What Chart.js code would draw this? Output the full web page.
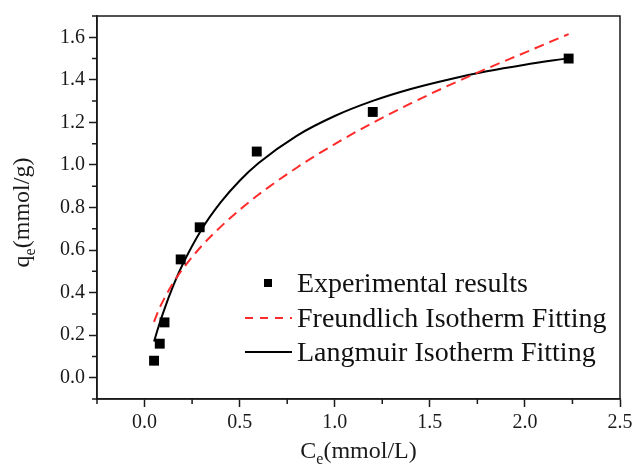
<!DOCTYPE html>
<html>
<head>
<meta charset="utf-8">
<style>
  html, body { margin: 0; padding: 0; background: #fff; }
  #chart { display: block; }
</style>
<script src="https://cdn.jsdelivr.net/npm/chart.js@4.4.1/dist/chart.umd.min.js"></script>
</head>
<body>
<canvas id="chart" width="634" height="466"></canvas>
<script>
// ===== Data =====
const expC = [0.05, 0.08, 0.105, 0.19, 0.29, 0.59, 1.2, 2.23];
const expQ = [0.08, 0.16, 0.26, 0.556, 0.707, 1.063, 1.249, 1.50];

const fitC = [0.05, 0.075, 0.1, 0.15, 0.2, 0.3, 0.4, 0.5, 0.6, 0.8, 1.0, 1.2, 1.4, 1.6, 1.8, 2.0, 2.23];
const freundlichQ = [0.263, 0.320, 0.366, 0.445, 0.510, 0.619, 0.709, 0.789, 0.861, 0.987, 1.098, 1.198, 1.289, 1.374, 1.453, 1.528, 1.615];
const langmuirQ = [0.170, 0.244, 0.311, 0.430, 0.532, 0.697, 0.824, 0.926, 1.009, 1.137, 1.230, 1.301, 1.357, 1.402, 1.440, 1.471, 1.502];

const seriesNames = ["Experimental results", "Freundlich Isotherm Fitting", "Langmuir Isotherm Fitting"];
const xTitle = ["C", "e", "(mmol/L)"];
const yTitle = ["q", "e", "(mmol/g)"];

const xMajor = [0, 0.5, 1.0, 1.5, 2.0, 2.5];
const yMajor = [0, 0.2, 0.4, 0.6, 0.8, 1.0, 1.2, 1.4, 1.6];

// ===== Styles =====
const AXIS = "#1a1a1a";
const RED = "#ff2b2b";
const SERIF = "'Liberation Serif', 'Times New Roman', serif";

const toXY = (xs, ys) => xs.map((x, i) => ({ x: x, y: ys[i] }));
const isMajor = (v, list) => list.some(m => Math.abs(m - v) < 1e-6);

// frame, minor ticks, axis titles and legend
const decorPlugin = {
  id: "decor",
  afterDraw(chart) {
    const ctx = chart.ctx;
    const a = chart.chartArea;
    const xs = chart.scales.x, ys = chart.scales.y;
    ctx.save();

    // box frame
    ctx.strokeStyle = AXIS;
    ctx.lineWidth = 1.5;
    ctx.strokeRect(a.left, a.top, a.right - a.left, a.bottom - a.top);

    // minor ticks
    ctx.beginPath();
    xs.ticks.forEach(t => {
      if (isMajor(t.value, xMajor)) return;
      const px = xs.getPixelForValue(t.value);
      ctx.moveTo(px, a.bottom);
      ctx.lineTo(px, a.bottom + 5);
    });
    ys.ticks.forEach(t => {
      if (isMajor(t.value, yMajor)) return;
      const py = ys.getPixelForValue(t.value);
      ctx.moveTo(a.left, py);
      ctx.lineTo(a.left - 5, py);
    });
    ctx.stroke();

    // axis titles with subscript
    ctx.fillStyle = AXIS;
    ctx.textBaseline = "alphabetic";
    const big = "24px " + SERIF, small = "16px " + SERIF;
    function drawSub(parts, cx, baseY) {
      ctx.font = big; const w0 = ctx.measureText(parts[0]).width;
      ctx.font = small; const w1 = ctx.measureText(parts[1]).width;
      ctx.font = big; const w2 = ctx.measureText(parts[2]).width;
      let x = cx - (w0 + w1 + w2) / 2;
      ctx.textAlign = "left";
      ctx.font = big; ctx.fillText(parts[0], x, baseY); x += w0;
      ctx.font = small; ctx.fillText(parts[1], x, baseY + 6); x += w1;
      ctx.font = big; ctx.fillText(parts[2], x, baseY);
    }
    drawSub(xTitle, (a.left + a.right) / 2, 458);
    ctx.save();
    ctx.translate(29, (a.top + a.bottom) / 2 + 5);
    ctx.rotate(-Math.PI / 2);
    drawSub(yTitle, 0, 0);
    ctx.restore();

    // legend inside the plot
    const lx = a.left + 148, tx = a.left + 200;
    const rows = [a.bottom - 116, a.bottom - 81, a.bottom - 47];
    ctx.font = "28px " + SERIF;
    ctx.textAlign = "left";
    ctx.textBaseline = "middle";
    // marker
    ctx.fillStyle = "#000";
    ctx.fillRect(lx + 19, rows[0] - 4, 8, 8);
    // red dashed
    ctx.strokeStyle = RED;
    ctx.lineWidth = 2;
    ctx.setLineDash([8, 7]);
    ctx.beginPath(); ctx.moveTo(lx, rows[1]); ctx.lineTo(lx + 47, rows[1]); ctx.stroke();
    ctx.setLineDash([]);
    ctx.strokeStyle = "#000";
    ctx.beginPath(); ctx.moveTo(lx, rows[2]); ctx.lineTo(lx + 47, rows[2]); ctx.stroke();
    ctx.fillStyle = "#111";
    seriesNames.forEach((n, i) => ctx.fillText(n, tx, rows[i] + 2));

    ctx.restore();
  }
};

const tickFont = { family: SERIF, size: 20 };

new Chart(document.getElementById("chart"), {
  type: "scatter",
  data: {
    datasets: [
      {
        label: seriesNames[0],
        data: toXY(expC, expQ),
        pointStyle: "rect",
        pointRadius: 7,
        backgroundColor: "#000",
        borderColor: "#000",
        borderWidth: 0
      },
      {
        label: seriesNames[1],
        data: toXY(fitC, freundlichQ),
        showLine: true,
        pointRadius: 0,
        borderColor: RED,
        borderWidth: 2,
        borderDash: [10, 6],
        cubicInterpolationMode: "monotone"
      },
      {
        label: seriesNames[2],
        data: toXY(fitC, langmuirQ),
        showLine: true,
        pointRadius: 0,
        borderColor: "#000",
        borderWidth: 2,
        cubicInterpolationMode: "monotone"
      }
    ]
  },
  options: {
    responsive: false,
    animation: false,
    layout: { padding: { top: 14, right: 14, left: 0, bottom: 0 } },
    plugins: { legend: { display: false }, tooltip: { enabled: false } },
    scales: {
      x: {
        type: "linear",
        min: -0.25,
        max: 2.5,
        afterFit: s => { s.height = 67; s.paddingRight = 0; },
        border: { color: AXIS, width: 1.5 },
        grid: {
          drawOnChartArea: false,
          tickLength: 8,
          tickWidth: 1.5,
          tickColor: c => (c.tick && isMajor(c.tick.value, xMajor)) ? AXIS : "rgba(0,0,0,0)"
        },
        ticks: {
          stepSize: 0.25,
          autoSkip: false,
          maxRotation: 0,
          padding: 4,
          color: AXIS,
          font: tickFont,
          callback: v => isMajor(v, xMajor) ? v.toFixed(1) : ""
        }
      },
      y: {
        type: "linear",
        min: -0.1,
        max: 1.7,
        afterFit: s => { s.width = 97; },
        border: { color: AXIS, width: 1.5 },
        grid: {
          drawOnChartArea: false,
          tickLength: 8,
          tickWidth: 1.5,
          tickColor: c => (c.tick && isMajor(c.tick.value, yMajor)) ? AXIS : "rgba(0,0,0,0)"
        },
        ticks: {
          stepSize: 0.1,
          autoSkip: false,
          padding: 4,
          color: AXIS,
          font: tickFont,
          callback: v => isMajor(v, yMajor) ? v.toFixed(1) : ""
        }
      }
    }
  },
  plugins: [decorPlugin]
});
</script>
</body>
</html>
